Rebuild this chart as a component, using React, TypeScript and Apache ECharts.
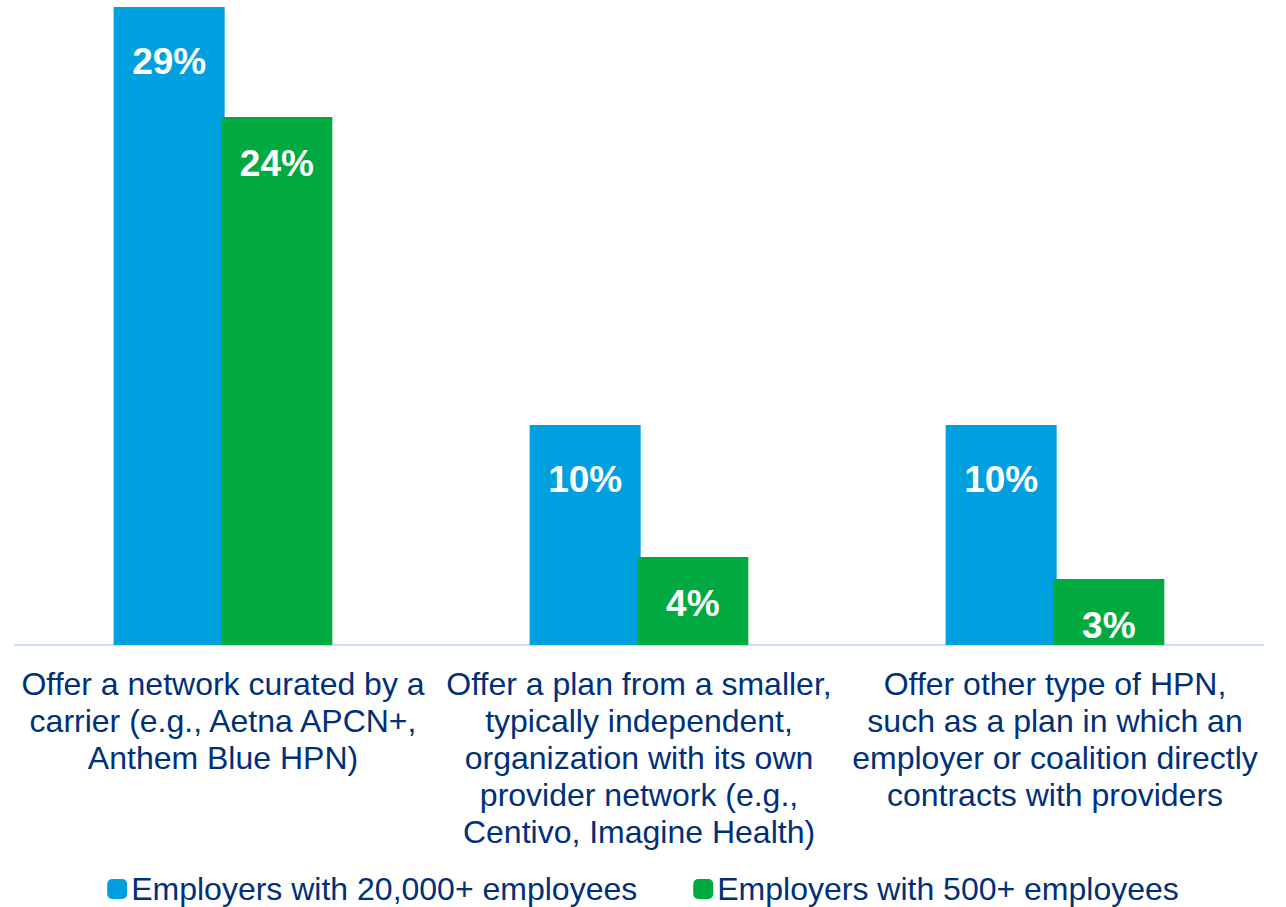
import React, { useEffect, useRef } from "react";
import * as echarts from "echarts";

const categories = [
  "Offer a network curated by a\ncarrier (e.g., Aetna APCN+,\nAnthem Blue HPN)",
  "Offer a plan from a smaller,\ntypically independent,\norganization with its own\nprovider network (e.g.,\nCentivo, Imagine Health)",
  "Offer other type of HPN,\nsuch as a plan in which an\nemployer or coalition directly\ncontracts with providers",
];
const seriesNames = ["Employers with 20,000+ employees", "Employers with 500+ employees"];
const large = [29, 10, 10];
const mid = [24, 4, 3];

const BLUE = "#009FE0";
const GREEN = "#00AA41";
const NAVY = "#00307A";
const FONT = "'Liberation Sans', Arial, sans-serif";

export default function App() {
  const ref = useRef<HTMLDivElement>(null);
  useEffect(() => {
    if (!ref.current) return;
    const chart = echarts.init(ref.current, undefined, { renderer: "svg" });
    const labelCfg = (distance: number) => ({
      show: true,
      position: "insideTop" as const,
      distance,
      color: "#fff",
      fontSize: 37,
      fontWeight: "bold" as const,
      fontFamily: FONT,
      formatter: "{c}%",
    });
    chart.setOption({
      animation: false,
      textStyle: { fontFamily: FONT },
      grid: { left: 15, right: 23, top: 7, bottom: 262, containLabel: false },
      legend: {
        top: 868,
        left: "center",
        itemWidth: 20,
        itemHeight: 20,
        itemGap: 56,
        icon: "roundRect",
        textStyle: { color: NAVY, fontSize: 32, fontFamily: FONT, padding: [0, 0, 0, -1] },
        data: seriesNames,
      },
      xAxis: {
        type: "category",
        data: categories,
        axisLine: { show: true, lineStyle: { color: "#C9DDF8", width: 2 } },
        axisTick: { show: false },
        axisLabel: {
          interval: 0,
          color: NAVY,
          fontSize: 32,
          lineHeight: 37,
          margin: 20,
          fontFamily: FONT,
        },
      },
      yAxis: {
        type: "value",
        min: 0,
        max: 29,
        show: false,
        splitLine: { show: false },
      },
      series: [
        {
          name: seriesNames[0],
          type: "bar",
          data: large,
          barWidth: 111,
          barGap: "-3%",
          itemStyle: { color: BLUE },
          label: labelCfg(36),
        },
        {
          name: seriesNames[1],
          type: "bar",
          data: mid,
          barWidth: 111,
          itemStyle: { color: GREEN },
          label: labelCfg(28),
        },
      ],
    });
    return () => chart.dispose();
  }, []);
  return (
    <div
      ref={ref}
      style={{ position: "absolute", left: 0, top: 0, width: 1286, height: 907 }}
    />
  );
}
